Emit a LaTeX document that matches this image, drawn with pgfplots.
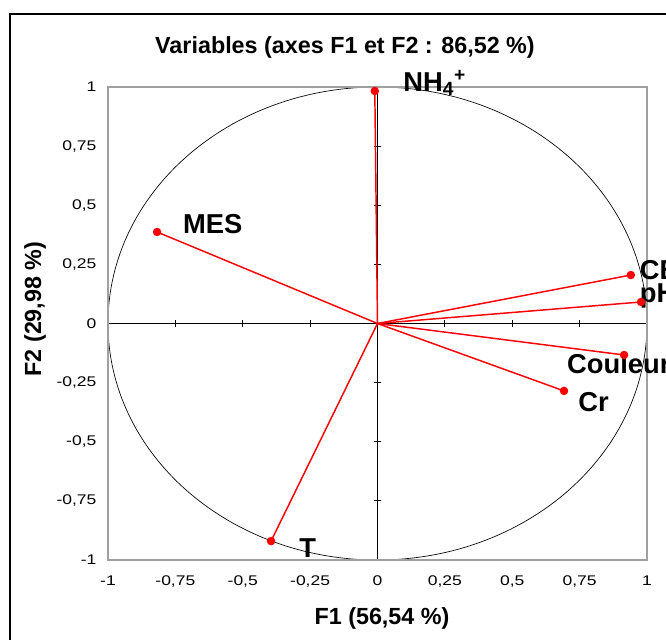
\documentclass[border=0pt]{standalone}
\usepackage{fontspec}
\setmainfont{Liberation Sans}
\usepackage{graphicx}
\usepackage{pgfplots}
\pgfplotsset{compat=1.18}
\definecolor{xlred}{HTML}{FF0000}
\definecolor{xlgray}{HTML}{A0A0A0}

\newcommand\lblfont{\bfseries\fontsize{20.5}{22}\selectfont}
\newcommand\ttlfont{\bfseries\fontsize{17.5}{19}\selectfont}

\pgfplotsset{
  pcaframe/.style={
    at={(81pt,-420pt)}, anchor=south west,
    width=404.25pt, height=354.75pt, scale only axis,
    xmin=-1, xmax=1, ymin=-1, ymax=1,
    enlargelimits=false,
    xtick={-1,-0.75,...,1}, ytick={-1,-0.75,...,1},
  },
  var/.style={xlred, line width=1.1pt, mark=*, mark size=2.6pt, mark indices={2},
    mark options={solid, fill=xlred, draw=xlred}},
}

\begin{document}
\begin{tikzpicture}
\useasboundingbox (0,0) rectangle (499.5pt,-479.25pt);
\draw[black, line width=0.8pt] (7.5pt,-10.5pt) rectangle (540pt,-520pt);

% zero axes with small crossing ticks, and the unit circle
\begin{axis}[pcaframe,
  axis lines=middle, axis line style={black, line width=0.6pt, -},
  major tick length=5pt, tick align=center, tick style={black, line width=0.6pt},
  xticklabels={}, yticklabels={}, clip=false]
\draw[black, line width=0.5pt] (axis cs:0,0) ellipse [x radius=1, y radius=1];
\end{axis}

\begin{axis}[pcaframe,
  axis line style={xlgray, line width=0.8pt},
  major tick length=0pt,
  clip=false,
  /pgf/number format/use comma,
  /pgf/number format/assume math mode=true,
  xticklabel={\scalebox{1.25}[1]{\pgfmathprintnumber{\tick}}},
  yticklabel={\scalebox{1.25}[1]{\pgfmathprintnumber{\tick}}},
  xticklabel style={font=\fontsize{10.5}{12}\selectfont, anchor=center, yshift=-15.75pt},
  yticklabel style={font=\fontsize{10.5}{12}\selectfont, anchor=east, inner sep=0pt, xshift=-8.5pt},
]
\addplot[var] coordinates {(0,0) (-0.010,0.983)};
\addplot[var] coordinates {(0,0) (-0.818,0.387)};
\addplot[var] coordinates {(0,0) (0.940,0.205)};
\addplot[var] coordinates {(0,0) (0.978,0.091)};
\addplot[var] coordinates {(0,0) (0.915,-0.133)};
\addplot[var] coordinates {(0,0) (0.692,-0.285)};
\addplot[var] coordinates {(0,0) (-0.395,-0.920)};

\node[anchor=west, inner sep=0pt, font=\lblfont] at (axis cs:0.095,1.017) {NH\textsubscript{4}\textsuperscript{+}};
\node[anchor=west, inner sep=0pt, font=\lblfont] at (axis cs:-0.722,0.421) {MES};
\node[anchor=west, inner sep=0pt, font=\lblfont] at (axis cs:0.973,0.226) {CE};
\node[anchor=west, inner sep=0pt, font=\lblfont] at (axis cs:0.973,0.116) {pH};
\node[anchor=west, inner sep=0pt, font=\lblfont] at (axis cs:0.703,-0.171) {Couleur};
\node[anchor=west, inner sep=0pt, font=\lblfont] at (axis cs:0.744,-0.332) {Cr};
\node[anchor=west, inner sep=0pt, font=\lblfont] at (axis cs:-0.291,-0.949) {T};
\end{axis}

\node[anchor=base, font=\ttlfont] at (258.75pt,-39.75pt) {Variables (axes F1 et F2 : 86,52 \%)};
\node[anchor=base, font=\ttlfont] at (286.5pt,-468pt) {F1 (56,54 \%)};
\node[rotate=90, font=\ttlfont] at (26.25pt,-231.75pt) {F2 (29,98 \%)};
\end{tikzpicture}
\end{document}
